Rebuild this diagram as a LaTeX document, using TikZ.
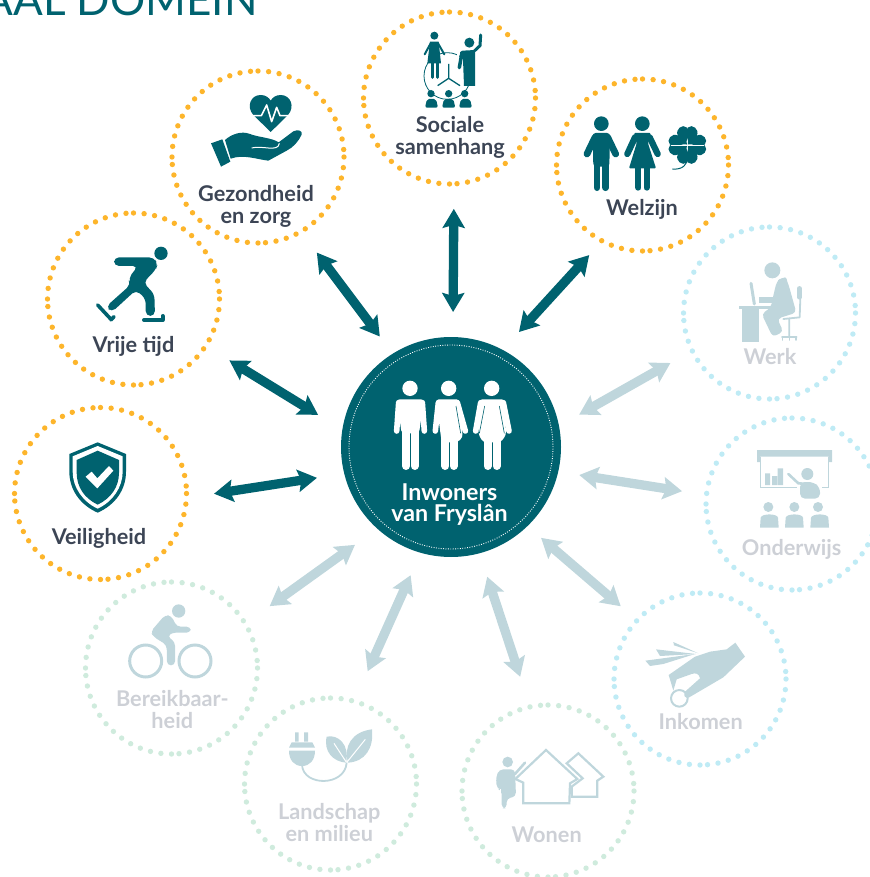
\documentclass[tikz,border=0pt]{standalone}
\usepackage{fontspec}
\setmainfont{Lato}
\usetikzlibrary{arrows.meta}
\definecolor{teal}{HTML}{00626F}
\definecolor{ink}{HTML}{3C4555}
\definecolor{orangedot}{HTML}{FDB52B}
\definecolor{bluedot}{HTML}{BFEBF5}
\definecolor{greendot}{HTML}{CFEBDD}
\definecolor{fadeicon}{HTML}{BFD6DC}
\definecolor{fadetext}{HTML}{CDD0D6}
\tikzset{
  ring/.style={circle,minimum size=172pt,inner sep=0pt,outer sep=0pt},
  lab/.style={font=\fontsize{21.7}{22}\selectfont\bfseries,align=center,inner sep=0pt,anchor=base},
  labon/.style={lab,text=ink},
  laboff/.style={lab,text=fadetext},
  arrow base/.style={line width=9.3pt,-,{Stealth[length=19pt,width=22pt,inset=3pt]}-{Stealth[length=19pt,width=22pt,inset=3pt]}},
  arron/.style={arrow base,draw=teal},
  arroff/.style={arrow base,draw=fadeicon},
  zoomed/.style 2 args={shift={(#1pt,-#2pt)},x=.33333pt,y=-.33333pt},
  ln/.style={line cap=round,line join=round},
}
\newcommand{\dotring}[2]{%
  \foreach \q in {0,1,2,3}{%
    \fill[#2] (#1.center) ++({\q*90-90}:86pt) circle (2.7pt);
    \foreach \k in {0,...,11}{%
      \fill[#2] (#1.center) ++({\q*90-90+5+\k*7.083}:86pt) circle (2.7pt);
    }%
  }%
}
\newcommand{\heartleaf}{%
  (0,-2) .. controls (-3,-14) and (-36,-18) .. (-36,-38)
  .. controls (-36,-56) and (-6,-60) .. (0,-40)
  .. controls (6,-60) and (36,-56) .. (36,-38)
  .. controls (36,-18) and (3,-14) .. (0,-2) -- cycle
}
\begin{document}
\begin{tikzpicture}[x=1pt,y=-1pt]
\useasboundingbox (0,0) rectangle (869,877);

% heading
\node[font=\fontsize{44}{44}\selectfont,text=teal,anchor=base east,inner sep=0pt] (title) at (258,15.6) {AAL DOMEIN};

% hub
\node[circle,fill=teal,minimum size=220pt,inner sep=0pt,outer sep=0pt] (hub) at (451,447) {};
\draw[white,line width=.9pt,dash pattern=on .9pt off 1.5pt] (hub.center) circle (102pt);

% rings
\node[ring] (soc) at (449.5,98) {};
\node[ring] (wel) at (642.5,165) {};
\node[ring] (gez) at (258,157) {};
\node[ring] (vri) at (133.5,299) {};
\node[ring] (vei) at (100.5,493.5) {};
\node[ring] (wer) at (769.5,313) {};
\node[ring] (ond) at (792,504) {};
\node[ring] (ink) at (700,679) {};
\node[ring] (won) at (548,791) {};
\node[ring] (lan) at (330.5,784) {};
\node[ring] (ber) at (171.5,668) {};
\dotring{soc}{orangedot}
\dotring{wel}{orangedot}
\dotring{gez}{orangedot}
\dotring{vri}{orangedot}
\dotring{vei}{orangedot}
\dotring{wer}{bluedot}
\dotring{ond}{bluedot}
\dotring{ink}{bluedot}
\dotring{won}{greendot}
\dotring{lan}{greendot}
\dotring{ber}{greendot}

% connectors
\draw[arron,shorten <=25pt,shorten >=25pt] (soc.-87.7) -- (hub.89);
\draw[arron,shorten <=19.2pt,shorten >=24.2pt] (wel.-118.2) -- (hub.62);
\draw[arron,shorten <=26.4pt,shorten >=21.5pt] (gez.-60.6) -- (hub.122.5);
\draw[arron,shorten <=27.9pt,shorten >=28.5pt] (vri.-33.6) -- (hub.171);
\draw[arron,shorten <=28pt,shorten >=27.6pt] (vei.-3.2) -- (hub.194.1);
\draw[arroff,shorten <=25pt,shorten >=23.2pt] (wer.-154.8) -- (hub.11.3);
\draw[arroff,shorten <=24.7pt,shorten >=21.3pt] (ond.174.5) -- (hub.-13.5);
\draw[arroff,shorten <=21.6pt,shorten >=18pt] (ink.137.8) -- (hub.-46);
\draw[arroff,shorten <=31.7pt,shorten >=24.7pt] (won.102.8) -- (hub.-75.6);
\draw[arroff,shorten <=33pt,shorten >=24.6pt] (lan.74.5) -- (hub.-106.3);
\draw[arroff,shorten <=30.1pt,shorten >=27.6pt] (ber.31.9) -- (hub.-132.7);

% labels
\node[labon] (l-soc) at (450,154.5) {Sociale\\samenhang};
\node[labon] (l-wel) at (642,215.5) {Welzijn};
\node[labon] (l-gez) at (256,224) {Gezondheid\\en zorg};
\node[labon] (l-vri) at (133.5,352.5) {Vrije tijd};
\node[labon] (l-vei) at (99,544.8) {Veiligheid};
\node[laboff] (l-wer) at (770,364) {Werk};
\node[laboff] (l-ond) at (791.7,555) {Onderwijs};
\node[laboff] (l-ink) at (700.7,729) {Inkomen};
\node[laboff] (l-won) at (546.7,842.5) {Wonen};
\node[laboff] (l-lan) at (329.3,841.7) {Landschap\\en milieu};
\node[laboff] (l-ber) at (172.3,728.5) {Bereikbaar-\\heid};
\node[lab,text=white,font=\fontsize{23.2}{21}\selectfont\bfseries] (l-hub) at (449.5,521) {Inwoners\\van Fryslân};

% --- Sociale samenhang icon
\begin{scope}[zoomed={340}{0}]
\draw[teal,line width=.8pt] (322,228) circle (70);
\fill[teal] (283,107) circle (12);
\draw[teal,ln,line width=2pt] (254,163) -- (272,130) -- (294,130) -- (313,163);
\fill[teal] (270,125) -- (296,125) -- (303,190) -- (262,190) -- cycle;
\draw[teal,ln,line width=3pt] (277,188) -- (277,232) (291,188) -- (291,232);
\fill[white] (352,150) rectangle (358,210);
\fill[teal] (388,128) circle (15);
\draw[teal,ln,line width=3pt] (404,152) -- (420,137) -- (422,105);
\fill[teal] (368,152) -- (405,150) -- (405,258) -- (372,258) -- cycle;
\draw[teal,ln,line width=3.5pt] (366,157) -- (358,203);
\draw[teal,line width=1.3pt] (326,192) -- (326,235) -- (293,257) (326,235) -- (360,257);
\fill[teal] (273,281) circle (11) (326,281) circle (11) (374,281) circle (11);
\fill[teal,rounded corners=2pt] (255,323) -- (261,297) -- (288,297) -- (294,323) -- cycle;
\fill[teal,rounded corners=2pt] (306,323) -- (312,297) -- (340,297) -- (346,323) -- cycle;
\fill[teal,rounded corners=2pt] (357,323) -- (363,297) -- (390,297) -- (396,323) -- cycle;
\end{scope}

% --- Welzijn icon
\begin{scope}[zoomed={340}{0}]
\fill[teal] (784,371) circle (22) (907,371) circle (22);
\draw[teal,ln,line width=6.8pt] (765,412) -- (741,462) (803,412) -- (827,462);
\fill[teal,rounded corners=3pt] (758,399) -- (810,399) -- (808,500) -- (760,500) -- cycle;
\draw[teal,ln,line width=6.8pt] (771,490) -- (771,563) (797,490) -- (797,563);
\draw[teal,ln,line width=6.3pt] (885,412) -- (862,462) (929,412) -- (953,462);
\fill[teal,rounded corners=1pt] (882,399) -- (932,399) -- (924,430) -- (948,505) -- (867,505) -- (890,430) -- cycle;
\draw[teal,ln,line width=6pt] (895,505) -- (895,563) (920,505) -- (920,563);
\foreach \r in {45,135,225,315}{
  \begin{scope}[shift={(1042,435)},rotate=\r]
  \fill[teal] \heartleaf;
  \end{scope}
}
\draw[white,line width=.8pt] (993,435) -- (1092,435);
\draw[teal,line width=1pt] (1042,470) .. controls (1045,495) and (1025,510) .. (997,507);
\end{scope}

% --- Gezondheid icon
\begin{scope}[zoomed={0}{60}]
\fill[teal] (812,216) -- (760,165) .. controls (738,140) and (752,105) .. (782,105)
  .. controls (797,105) and (807,113) .. (812,122) .. controls (817,113) and (827,105) .. (842,105)
  .. controls (872,105) and (886,140) .. (864,165) -- cycle;
\draw[white,line width=1.6pt,line join=round] (750,167) -- (784,167) -- (800,135) -- (815,185) -- (830,142) -- (840,167) -- (875,167);
\fill[teal] (633,250) -- (667,238) -- (691,305) -- (663,320) -- cycle;
\fill[teal] (675,240) .. controls (695,222) and (725,212) .. (750,222)
  .. controls (775,232) and (815,233) .. (836,247) -- (880,214) .. controls (895,207) and (908,212) .. (905,224)
  .. controls (895,245) and (880,262) .. (860,272) -- (805,302)
  .. controls (770,298) and (730,282) .. (692,296) -- cycle;
\draw[white,line width=1pt] (755,264) .. controls (785,255) and (835,278) .. (838,250);
\end{scope}

% --- Vrije tijd icon
\begin{scope}[zoomed={0}{60}]
\fill[teal] (483,580) circle (20);
\fill[teal,rounded corners=5pt] (342,592) -- (462,592) -- (473,612) -- (468,628) -- (430,668) -- (463,702) -- (465,768) -- (437,768)
  -- (437,716) -- (408,690) -- (335,757) -- (318,740) -- (392,674) -- (385,655) -- (414,618) -- (342,618) -- cycle;
\draw[teal,ln,line width=3.6pt] (293,735) -- (333,778) (342,770) -- (333,780);
\draw[teal,ln,line width=4pt] (432,780) -- (488,780) -- (488,768);
\end{scope}

% --- Veiligheid icon
\begin{scope}[zoomed={0}{400}]
\fill[teal] (293,127) -- (378,162) -- (378,215) .. controls (378,270) and (345,315) .. (293,338)
  .. controls (241,315) and (208,270) .. (208,215) -- (208,162) -- cycle;
\fill[white] (293,138) -- (368,169) -- (368,215) .. controls (368,262) and (338,305) .. (293,326)
  .. controls (248,305) and (218,262) .. (218,215) -- (218,169) -- cycle;
\fill[teal] (293,152) -- (357,180) -- (357,218) .. controls (357,262) and (332,295) .. (293,314)
  .. controls (254,295) and (230,262) .. (230,218) -- (230,180) -- cycle;
\fill[white] (257,230) -- (275,215) -- (292,235) -- (327,198) -- (340,212) -- (292,265) -- cycle;
\end{scope}

% --- hub people
\begin{scope}[zoomed={330}{320}]
\fill[white] (240,205) circle (23) (356,205) circle (23) (485,205) circle (23);
% man
\draw[white,ln,line width=5.6pt] (206,248) -- (200,333) (277,248) -- (283,333);
\fill[white,rounded corners=3pt] (200,238) -- (282,238) -- (267,340) -- (215,340) -- cycle;
\draw[white,ln,line width=8pt] (228,335) -- (228,438) (254,335) -- (254,438);
% middle
\draw[white,ln,line width=5.6pt] (325,248) -- (316,333) (382,248) -- (406,333);
\fill[white,rounded corners=3pt] (318,238) -- (388,238) -- (398,352) -- (382,367) -- (335,367) -- cycle;
\draw[white,ln,line width=8pt] (346,360) -- (346,438) (371,360) -- (371,438);
% woman
\draw[white,ln,line width=5.6pt] (452,248) -- (437,333) (520,248) -- (537,333);
\fill[white,rounded corners=3pt] (448,238) -- (524,238) -- (528,345) -- (512,367) -- (460,367) -- (446,345) -- cycle;
\draw[white,ln,line width=8pt] (473,360) -- (473,438) (500,360) -- (500,438);
\draw[teal,line width=.6pt] (464,258) -- (448,340) (508,258) -- (523,340) (378,258) -- (392,340);
\end{scope}

% --- Werk icon
\begin{scope}[zoomed={670}{220}]
\fill[fadeicon] (307,151) circle (24);
\fill[fadeicon,rounded corners=4pt] (333,173) .. controls (350,172) and (352,185) .. (356,195) -- (379,278) -- (322,296) -- (340,335) -- (308,351)
  -- (275,282) -- (303,262) -- (308,235) -- (320,185) -- cycle;
\fill[fadeicon] (207,258) rectangle (330,266);
\fill[fadeicon] (217,266) rectangle (267,365);
\fill[fadeicon] (268,230) rectangle (310,250);
\draw[fadeicon,ln,line width=3pt] (243,190) -- (253,252);
\draw[fadeicon,ln,line width=4.5pt] (388,205) -- (388,232);
\draw[fadeicon,ln,line width=1.8pt] (391,235) -- (389,292) -- (340,297) (358,297) -- (358,350);
\draw[fadeicon,ln,line width=1.6pt] (336,351) -- (380,351) (338,351) -- (338,360) (358,351) -- (358,360) (378,351) -- (378,360);
\end{scope}

% --- Onderwijs icon
\begin{scope}[zoomed={670}{220}]
\fill[fadeicon] (261,690) -- (486,690) -- (486,726) -- (476,726) -- (476,710) -- (270,710) -- (270,726) -- (261,726) -- cycle;
\draw[fadeicon,line width=1.3pt] (271,710) -- (271,802) -- (475,802) -- (475,710);
\fill[fadeicon] (285,760) rectangle (300,795) (306,768) rectangle (321,795) (323,745) rectangle (339,795);
\fill[fadeicon] (412,762) circle (18);
\fill[white] (380,800) rectangle (455,840);
\draw[fadeicon,ln,line width=2.6pt] (355,762) -- (385,790) -- (415,792);
\fill[fadeicon,rounded corners=5pt] (390,786) -- (430,786) -- (450,802) -- (450,836) -- (390,836) -- cycle;
\fill[fadeicon] (295,861) circle (15) (373,861) circle (15) (444,861) circle (15);
\foreach \xx in {270,345,421}{
  \fill[fadeicon] (\xx,923) -- (\xx+2,893) .. controls (\xx+5,880) and (\xx+52,880) .. (\xx+54,893) -- (\xx+56,923) -- cycle;
}
\end{scope}

% --- Inkomen icon
\begin{scope}[zoomed={450}{590}]
\draw[fadeicon,line width=2pt] (688,325) circle (25);
\fill[fadeicon] (856,158) -- (885,200) -- (820,262) -- (716,323) .. controls (703,325) and (700,315) .. (705,305) -- (750,265) .. controls (748,250) and (735,248) .. (725,252) -- (680,268)
  -- (670,302) -- (656,255) -- (735,200) -- (780,185) -- (830,178) -- cycle;
\fill[fadeicon] (586,212) -- (735,192) -- (640,222) -- (600,228) -- cycle;
\fill[fadeicon] (618,178) -- (738,192) -- (630,198) -- cycle;
\fill[fadeicon] (670,156) -- (745,190) -- (672,166) -- cycle;
\end{scope}

% --- Wonen icon
\begin{scope}[zoomed={450}{590}]
\draw[fadeicon,line width=2.2pt,line join=miter] (196,567) -- (288,480) -- (382,567) -- (360,580) -- (358,640) -- (220,640) -- (220,578) -- cycle;
\draw[fadeicon,line width=2.2pt,line join=miter] (350,520) -- (385,490) -- (460,560) -- (442,572) -- (442,620) -- (365,620) -- (365,590) -- (398,565) -- cycle;
\fill[fadeicon] (173,516) circle (16);
\draw[fadeicon,ln,line width=2.6pt] (195,552) -- (225,518);
\fill[fadeicon,rounded corners=4pt] (148,538) -- (195,538) -- (198,620) -- (170,625) -- (170,655) -- (155,655) -- (155,600) -- (140,595) -- (138,560) -- cycle;
\fill[white] (150,596) -- (152,596) -- (152,650) -- (150,650) -- cycle;
\end{scope}

% --- Bereikbaarheid icon
\begin{scope}[zoomed={80}{580}]
\draw[fadeicon,line width=3pt] (197,243) circle (48) (345,243) circle (48);
\fill[fadeicon] (296,93) circle (20);
\fill[fadeicon,rounded corners=4pt] (255,105) -- (274,107) -- (290,140) -- (332,140) -- (332,158) -- (275,158) -- (262,170) -- (285,185) -- (285,256) -- (261,256) -- (260,195) -- (220,170) -- (212,155) -- cycle;
\end{scope}

% --- Landschap icon
\begin{scope}[zoomed={80}{580}]
\fill[fadeicon] (645,457) rectangle (656,485) (672,457) rectangle (684,485);
\fill[fadeicon] (635,487) -- (697,487) -- (705,503) -- (627,503) -- cycle;
\fill[fadeicon] (627,512) -- (705,512) .. controls (705,540) and (690,558) .. (666,558) .. controls (642,558) and (627,540) .. (627,512) -- cycle;
\draw[fadeicon,line width=1.8pt] (666,555) .. controls (670,620) and (795,620) .. (800,548);
\fill[fadeicon] (740,470) .. controls (775,462) and (810,495) .. (798,548) .. controls (760,545) and (730,515) .. (740,470) -- cycle;
\fill[fadeicon] (876,448) .. controls (882,505) and (855,545) .. (804,548) .. controls (790,500) and (815,455) .. (876,448) -- cycle;
\draw[white,line width=1pt] (762,490) -- (798,545) (856,478) -- (802,545);
\end{scope}
\end{tikzpicture}
\end{document}
